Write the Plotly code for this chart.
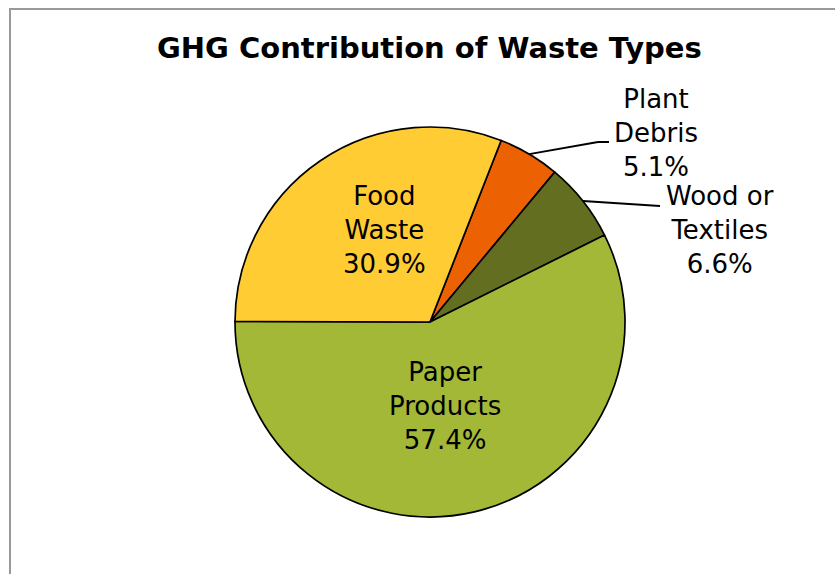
import math
import plotly.graph_objects as go

# ---- data ----
categories = ["Plant<br>Debris", "Wood or<br>Textiles", "Paper<br>Products", "Food<br>Waste"]
values = [5.1, 6.6, 57.4, 30.9]
colors = ["#EC6102", "#636E21", "#A3B836", "#FFCC33"]
title_text = "GHG Contribution of Waste Types"

# ---- layout constants (pixels, page coordinates) ----
OFF = 0  # body margin removed via post_script
W, H = 835, 574
CX, CY, R = 430, 322, 195
START = 21.4  # degrees clockwise from 12 o'clock where first slice starts

fig = go.Figure(go.Pie(
    labels=categories, values=values, sort=False, direction="clockwise",
    rotation=START, textinfo="none", hoverinfo="label+percent",
    marker=dict(colors=colors, line=dict(color="#000000", width=1.7)),
    domain=dict(x=[(CX - R) / W, (CX + R) / W], y=[(H - CY - R) / H, (H - CY + R) / H]),
    showlegend=False,
))

def px2paper(x, y):
    return (x - OFF) / W, 1 - (y - OFF) / H

total = sum(values)
cum = 0.0
styles = [
    dict(out=True, elbow=(598, 142), end=(609, 142), text=(656, 133)),
    dict(out=True, elbow=None, end=(660, 206), text=(720, 230)),
    dict(out=False, rf=0.43, nudge=(-4, 2)),
    dict(out=False, rf=0.53, nudge=(13, -7)),
]
annotations = []
shapes = []
for lab, v, st in zip(categories, values, styles):
    mid = START + (cum + v / 2) / total * 360
    cum += v
    a = math.radians(mid)
    pct = v / total * 100
    txt = f"{lab}<br>{pct:.1f}%"
    if st["out"]:
        ex, ey = CX + R * math.sin(a), CY - R * math.cos(a)
        pts = [(ex, ey)]
        if st["elbow"]:
            pts.append(st["elbow"])
        pts.append(st["end"])
        for (x0, y0), (x1, y1) in zip(pts[:-1], pts[1:]):
            p0 = px2paper(x0, y0); p1 = px2paper(x1, y1)
            shapes.append(dict(type="line", xref="paper", yref="paper",
                               x0=p0[0], y0=p0[1], x1=p1[0], y1=p1[1],
                               line=dict(color="#000000", width=2)))
        tx, ty = st["text"]
    else:
        tx, ty = CX + st["rf"] * R * math.sin(a), CY - st["rf"] * R * math.cos(a)
        tx += st["nudge"][0]; ty += st["nudge"][1]
    px, py = px2paper(tx, ty)
    annotations.append(dict(x=px, y=py, xref="paper", yref="paper", text=txt,
                            showarrow=False, xanchor="center", yanchor="middle",
                            font=dict(family="DejaVu Sans", size=26, color="#000000")))

tx, ty = px2paper(430, 48)
annotations.append(dict(x=tx, y=ty, xref="paper", yref="paper", text=f"<b>{title_text}</b>",
                        showarrow=False, xanchor="center", yanchor="middle",
                        font=dict(family="DejaVu Sans", size=29, color="#000000")))

# chart-area border (left and top edges visible)
bx0, by0 = px2paper(10, 9)
shapes.append(dict(type="rect", xref="paper", yref="paper",
                   x0=bx0, x1=1.3, y0=-0.3, y1=by0,
                   line=dict(color="#999999", width=2), fillcolor="rgba(0,0,0,0)"))

fig.update_layout(width=W, height=H, margin=dict(l=0, r=0, t=0, b=0),
                  paper_bgcolor="#ffffff", plot_bgcolor="#ffffff",
                  annotations=annotations, shapes=shapes)
fig.write_html("out.html", config={"displayModeBar": False},
               post_script="document.body.style.margin='0';document.body.style.overflow='hidden';")
